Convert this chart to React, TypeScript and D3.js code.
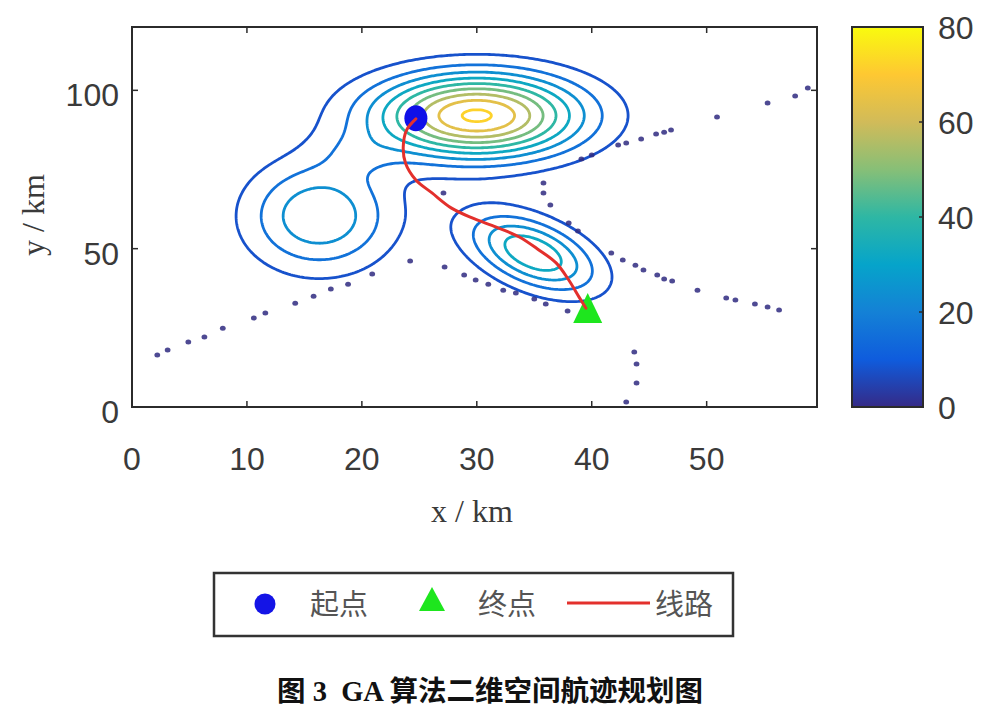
import React, { useRef, useEffect } from 'react';
import * as d3 from 'd3';

const xTicks = [0, 10, 20, 30, 40, 50];
const yTicks = [0, 50, 100];
const colorbarTicks = [0, 20, 40, 60, 80];
const contourLevels = [8, 16, 24, 32, 40, 48, 56, 64, 72];

// threat peaks: centre, height, spread, tilt
const peakCX = [30.0, 16.3, 34.9, 19.5];
const peakCY = [92.0, 60.3, 48.6, 80.0];
const peakH = [73.5, 31, 39.2, 6];
const peakSX = [6.25, 4.4, 3.85, 2.5];
const peakSY = [9.2, 12, 8.6, 5];
const peakRho = [0, 0, -0.49, 0];

// GA route
const routeX = [24.7, 23.9, 23.6, 23.8, 24.7, 26.1, 27.8, 29.6, 31.7, 33.7, 35.4, 36.9, 38.0, 38.9, 39.5];
const routeY = [91.0, 87.5, 82.1, 77.0, 71.7, 67.6, 62.8, 59.7, 56.8, 53.7, 49.6, 45.5, 40.1, 34.7, 31.2];
const startPt = [24.7, 91.2];
const endPt = [39.65, 30.8];

// scattered dark dots
const dotX = [
  2.2, 3.1, 4.9, 6.3, 7.9, 10.6, 11.6, 14.2, 15.8, 17.3, 18.8, 20.9, 24.2,
  27.2, 28.9, 29.9, 31.0, 32.3, 33.4, 35.0, 36.0, 37.9,
  43.7, 43.9, 43.9, 43.0,
  27.1, 35.8, 35.8, 36.4, 38.0, 38.8, 41.7, 42.7, 43.8, 44.5, 45.7, 46.3, 47.0, 49.2, 51.7, 52.5, 54.2, 55.3, 56.3,
  39.1, 40.0, 42.3, 43.0, 44.3, 45.6, 46.3, 46.9, 50.9, 55.3, 57.7, 58.8,
];
const dotY = [
  16.4, 18.0, 20.5, 22.1, 24.9, 28.1, 29.7, 32.8, 35.0, 37.3, 38.8, 42.0, 46.1,
  44.2, 41.7, 40.1, 38.8, 36.9, 36.0, 34.1, 32.5, 30.3,
  17.4, 13.6, 7.6, 1.6,
  67.6, 70.7, 67.6, 63.8, 58.1, 55.6, 48.6, 46.4, 44.8, 43.3, 41.7, 40.4, 39.8, 36.9, 34.4, 33.8, 32.5, 31.6, 30.6,
  78.3, 79.6, 82.7, 83.4, 84.6, 86.2, 86.8, 87.5, 91.6, 96.0, 98.2, 100.7,
];

const parulaStops = ['#352a87', '#0f5cdd', '#1481d6', '#06a4ca', '#2eb7a4', '#87bf77', '#d1bb59', '#fec832', '#f9fb0e'];
const legendLabels = ['起点', '终点', '线路'];
const caption = '图 3  GA 算法二维空间航迹规划图';

const W = 1000;
const H = 717;
const plot = { left: 132, right: 817, top: 27, bottom: 407 };
const xMax = 59.6;
const yMax = 120;
const cMax = 80;

function field(x: number, y: number) {
  let z = 0;
  for (let k = 0; k < peakH.length; k++) {
    const u = (x - peakCX[k]) / peakSX[k];
    const v = (y - peakCY[k]) / peakSY[k];
    const r = peakRho[k];
    const q = (u * u - 2 * r * u * v + v * v) / (1 - r * r);
    z += peakH[k] * Math.exp(-q / 2);
  }
  return z;
}

const App: React.FC = () => {
  const svgRef = useRef<SVGSVGElement | null>(null);

  useEffect(() => {
    if (!svgRef.current) return;
    const svg = d3.select(svgRef.current);
    svg.selectAll('*').remove();

    const xScale = d3.scaleLinear().domain([0, xMax]).range([plot.left, plot.right]);
    const yScale = d3.scaleLinear().domain([0, yMax]).range([plot.bottom, plot.top]);
    const parula = d3.scaleLinear<string>()
      .domain(parulaStops.map((_, i) => (i / (parulaStops.length - 1)) * cMax))
      .range(parulaStops)
      .interpolate(d3.interpolateRgb);

    const tickFont = '"Liberation Sans", Arial, sans-serif';
    const serif = '"Liberation Serif", "Times New Roman", serif';

    svg.append('rect').attr('width', W).attr('height', H).attr('fill', '#fff');

    // contour field
    const nx = 300, ny = 300;
    const dx = xMax / nx, dy = yMax / ny;
    const values = new Float64Array(nx * ny);
    for (let j = 0; j < ny; j++) {
      for (let i = 0; i < nx; i++) {
        values[j * nx + i] = field((i + 0.5) * dx, (j + 0.5) * dy);
      }
    }
    const contours = d3.contours().size([nx, ny]).thresholds(contourLevels)(Array.from(values));
    const proj = d3.geoTransform({
      point(x: number, y: number) {
        (this as any).stream.point(xScale(x * dx), yScale(y * dy));
      },
    });
    const path = d3.geoPath(proj as any);

    const chart = svg.append('g');
    chart.selectAll('.contour')
      .data(contours)
      .enter()
      .append('path')
      .attr('class', 'contour')
      .attr('d', d => path(d as any) || '')
      .attr('fill', 'none')
      .attr('stroke', d => parula(d.value))
      .attr('stroke-width', 2.8)
      .attr('stroke-linejoin', 'round');

    // dots
    chart.selectAll('.dot')
      .data(dotX.map((x, i) => [x, dotY[i]]))
      .enter()
      .append('ellipse')
      .attr('class', 'dot')
      .attr('cx', d => xScale(d[0]))
      .attr('cy', d => yScale(d[1]))
      .attr('rx', 2.9)
      .attr('ry', 2.5)
      .attr('fill', '#2f2a80')
      .attr('opacity', 0.85);

    // start / end markers
    chart.append('ellipse')
      .attr('cx', xScale(startPt[0]))
      .attr('cy', yScale(startPt[1]))
      .attr('rx', 11.5)
      .attr('ry', 13)
      .attr('fill', '#1010e8');

    const triW = 29, triH = 30;
    const ex = xScale(endPt[0]), ey = yScale(endPt[1]);
    chart.append('path')
      .attr('d', `M${ex},${ey - triH * 0.55}L${ex + triW / 2},${ey + triH * 0.45}L${ex - triW / 2},${ey + triH * 0.45}Z`)
      .attr('fill', '#1ee61e');

    // route
    const line = d3.line<number>()
      .x(i => xScale(routeX[i]))
      .y(i => yScale(routeY[i]))
      .curve(d3.curveCatmullRom);
    chart.append('path')
      .attr('d', line(routeX.map((_, i) => i)) || '')
      .attr('fill', 'none')
      .attr('stroke', '#e3302c')
      .attr('stroke-width', 3)
      .attr('stroke-linecap', 'round');

    // frame and ticks
    const axis = svg.append('g');
    axis.append('rect')
      .attr('x', plot.left).attr('y', plot.top)
      .attr('width', plot.right - plot.left).attr('height', plot.bottom - plot.top)
      .attr('fill', 'none').attr('stroke', '#2b2b2b').attr('stroke-width', 2);

    xTicks.forEach(t => {
      const x = xScale(t);
      axis.append('line').attr('x1', x).attr('x2', x).attr('y1', plot.bottom).attr('y2', plot.bottom - 6)
        .attr('stroke', '#2b2b2b').attr('stroke-width', 1.5);
      axis.append('line').attr('x1', x).attr('x2', x).attr('y1', plot.top).attr('y2', plot.top + 6)
        .attr('stroke', '#2b2b2b').attr('stroke-width', 1.5);
      axis.append('text')
        .attr('x', x).attr('y', plot.bottom + 63)
        .attr('text-anchor', 'middle')
        .attr('font-family', tickFont).attr('font-size', 32).attr('fill', '#3a3a3a')
        .text(String(t));
    });
    yTicks.forEach(t => {
      const y = yScale(t);
      axis.append('line').attr('x1', plot.left).attr('x2', plot.left + 6).attr('y1', y).attr('y2', y)
        .attr('stroke', '#2b2b2b').attr('stroke-width', 1.5);
      axis.append('line').attr('x1', plot.right).attr('x2', plot.right - 6).attr('y1', y).attr('y2', y)
        .attr('stroke', '#2b2b2b').attr('stroke-width', 1.5);
      axis.append('text')
        .attr('x', 119).attr('y', y + 16)
        .attr('text-anchor', 'end')
        .attr('font-family', tickFont).attr('font-size', 32).attr('fill', '#3a3a3a')
        .text(String(t));
    });

    axis.append('text')
      .attr('x', 472).attr('y', 522)
      .attr('text-anchor', 'middle')
      .attr('font-family', serif).attr('font-size', 32).attr('fill', '#3a3a3a')
      .text('x / km');
    axis.append('text')
      .attr('transform', 'translate(44, 215) rotate(-90)')
      .attr('text-anchor', 'middle')
      .attr('font-family', serif).attr('font-size', 32).attr('fill', '#3a3a3a')
      .text('y / km');

    // colorbar
    const cb = { x: 852, w: 71 };
    const cScale = d3.scaleLinear().domain([0, cMax]).range([plot.bottom, plot.top]);
    const grad = svg.append('defs').append('linearGradient')
      .attr('id', 'parula').attr('x1', 0).attr('y1', 1).attr('x2', 0).attr('y2', 0);
    parulaStops.forEach((c, i) => {
      grad.append('stop').attr('offset', i / (parulaStops.length - 1)).attr('stop-color', c);
    });
    svg.append('rect')
      .attr('x', cb.x).attr('y', plot.top).attr('width', cb.w).attr('height', plot.bottom - plot.top)
      .attr('fill', 'url(#parula)').attr('stroke', '#2b2b2b').attr('stroke-width', 2);
    colorbarTicks.forEach(t => {
      const y = cScale(t);
      svg.append('line').attr('x1', cb.x + cb.w).attr('x2', cb.x + cb.w - 4).attr('y1', y).attr('y2', y)
        .attr('stroke', '#2b2b2b').attr('stroke-width', 1.5);
      svg.append('text')
        .attr('x', cb.x + cb.w + 15).attr('y', y + 12)
        .attr('font-family', tickFont).attr('font-size', 32).attr('fill', '#3a3a3a')
        .text(String(t));
    });

    // legend
    const lg = svg.append('g');
    lg.append('rect')
      .attr('x', 214).attr('y', 573).attr('width', 519).attr('height', 63)
      .attr('fill', '#fff').attr('stroke', '#333').attr('stroke-width', 2.5);
    lg.append('circle').attr('cx', 265).attr('cy', 604).attr('r', 10.5).attr('fill', '#1414e6');
    lg.append('path').attr('d', 'M432,587L445,611L419,611Z').attr('fill', '#1ee61e');
    lg.append('line').attr('x1', 567).attr('x2', 650).attr('y1', 603).attr('y2', 603)
      .attr('stroke', '#e3302c').attr('stroke-width', 3);
    const labelX = [310, 478, 655];
    legendLabels.forEach((l, i) => {
      lg.append('text')
        .attr('x', labelX[i]).attr('y', 615)
        .attr('font-family', '"Noto Sans CJK SC", sans-serif').attr('font-size', 29).attr('fill', '#555')
        .text(l);
    });

    // caption
    svg.append('text')
      .attr('x', 490).attr('y', 701)
      .attr('text-anchor', 'middle')
      .attr('font-family', '"Liberation Serif", "Noto Sans CJK SC", serif')
      .attr('font-weight', 'bold').attr('font-size', 28.5).attr('fill', '#111')
      .attr('xml:space', 'preserve')
      .text(caption);
  }, []);

  return (
    <svg ref={svgRef} width={W} height={H} style={{ position: 'absolute', left: 0, top: 0 }} />
  );
};

export default App;
